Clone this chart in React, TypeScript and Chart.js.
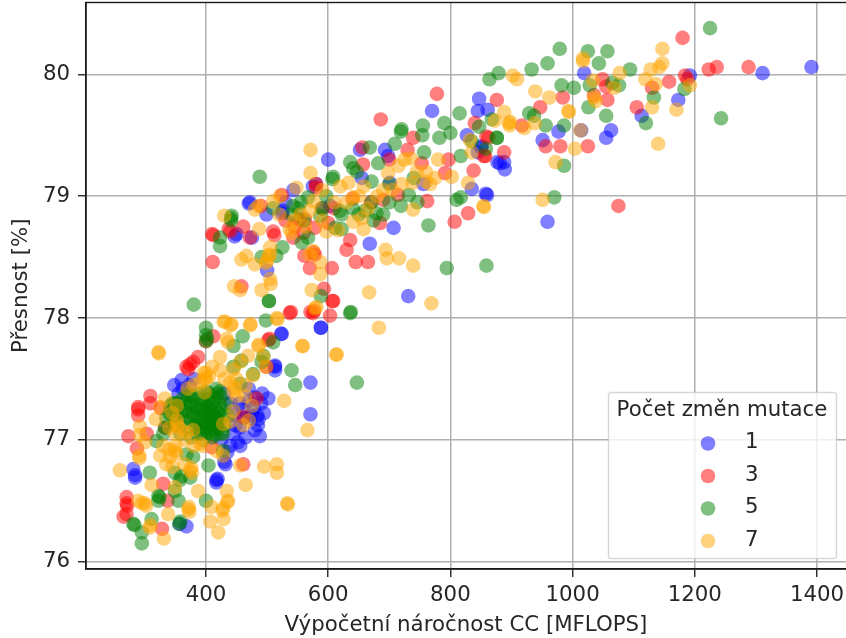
import React, { useEffect, useRef } from "react";
import { Chart, registerables } from "chart.js";

Chart.register(...registerables);

const xTickValues = [400, 600, 800, 1000, 1200, 1400];
const yTickValues = [76, 77, 78, 79, 80];
const xTitle = "Výpočetní náročnost CC [MFLOPS]";
const yTitle = "Přesnost [%]";
const legendTitle = "Počet změn mutace";
const seriesLabels = ["1", "3", "5", "7"];
const seriesColors = ["rgba(0,0,255,0.5)", "rgba(255,0,0,0.5)", "rgba(0,128,0,0.5)", "rgba(255,165,0,0.5)"];

const points1 = [
  [284,76.69],[284,76.71],[281,76.76],[348,77.45],[360,77.49],[355,77.38],[362,77.42],[523,77.87],[588,77.92],[571,77.47],[571,77.21],
  [513,77.61],[513,77.57],[513,77.6],[502,77.34],[488,77.03],[486,77.17],[484,77.2],[456,76.95],[430,76.82],[432,76.8],[417,76.67],[417,76.65],[419,76.68],
  [357,76.31],[368,76.29],[440,77.3],[448,77.2],[455,77.1],[460,77.25],[465,77.02],[470,77.32],[472,77.18],[478,77.26],[480,77.08],[490,77.3],[495,77.22],[445,77.05],[452,76.98],
  [435,76.9],[440,76.95],[425,77.0],[430,77.38],[470,77.42],[480,77.35],[492,77.38],[373,77.45],[380,77.5],[448,77.12],[462,77.18],[475,77.2],[485,77.12],[455,77.3],
  [472,78.95],[499,78.85],[524,78.86],[526,78.88],[447,78.67],[450,78.69],[475,78.66],[500,78.39],[524,77.87],[588,77.92],[731,78.18],[668,78.61],[707,78.74],[835,79.06],[860,79.01],
  [600,79.3],[652,79.38],[693,79.38],[698,79.33],[701,79.11],[655,79.15],[756,79.1],[851,79.41],[881,79.27],[827,79.5],[580,79.1],[543,79.05],[603,78.92],[575,79.08],[770,79.7],[845,79.7],
  [1391,80.06],[1311,80.01],[1192,79.99],[1019,80.01],[1173,79.79],[1113,79.66],[1063,79.54],[1055,79.48],[1014,79.54],[977,79.53],[951,79.46],[959,78.79],[858,79.02],[861,79.71],
  [877,79.28],[888,79.28],[889,79.22],[847,79.8],[850,79.4],[845,79.36],[530,78.95],[470,78.94],
];

const points3 = [
  [309,77.36],[289,77.27],[289,77.25],[289,77.2],[309,77.3],[273,77.03],[303,77.05],[287,76.93],[326,77.26],[368,77.6],[371,77.58],[374,77.62],[379,77.64],[387,77.68],[412,77.85],[400,77.81],
  [502,77.82],[539,78.05],[571,78.05],[575,78.04],[577,78.06],[603,78.02],[608,78.14],[270,76.53],[270,76.48],[271,76.46],[270,76.39],[265,76.37],[330,76.64],[328,76.27],[337,76.5],
  [461,76.8],[483,77.34],[461,77.19],[333,77.1],[409,76.94],[499,77.6],[411,78.46],[410,78.69],[412,78.68],[437,78.73],[440,78.71],[461,78.75],[458,78.26],[504,77.83],[537,78.04],
  [593,78.24],[607,78.14],[570,78.41],[606,78.41],[645,78.46],[665,78.46],[630,78.56],[636,78.64],[561,78.51],[576,78.54],[578,78.52],[543,78.66],[510,78.71],[512,78.68],[578,78.74],[562,78.81],
  [553,78.81],[685,78.78],[714,79.01],[690,78.97],[762,78.96],[807,78.79],[829,78.86],[838,79.21],[857,79.33],[862,79.48],[739,79.48],[657,79.26],[656,79.4],[753,79.27],[797,79.3],[791,79.19],
  [580,79.07],[524,79.01],[472,78.66],[580,79.1],[490,78.92],[530,78.8],[686,79.63],[778,79.84],[545,78.75],[560,78.7],[590,78.9],[610,78.9],[640,78.98],[670,78.95],[700,79.3],
  [1180,80.3],[1236,80.06],[1223,80.04],[1288,80.06],[1184,79.99],[1188,79.96],[1158,79.94],[1130,79.89],[1105,79.73],[1057,79.79],[1035,79.83],[1049,79.96],[1055,79.9],[984,79.81],[947,79.73],
  [876,79.79],[917,79.58],[859,79.49],[956,79.41],[980,79.41],[1025,79.41],[1075,78.92],[888,79.36],[855,79.33],[730,79.38],[840,79.6],[600,78.78],
];

const points5 = [
  [380,78.11],[503,78.14],[637,78.05],[498,77.98],[400,77.92],[400,77.86],[400,77.81],[402,77.83],[460,77.85],[445,77.77],[510,77.8],[540,77.57],[546,77.45],[647,77.47],[494,77.69],[491,77.64],
  [458,77.65],[445,77.6],[423,77.4],[404,76.79],[400,76.5],[428,76.91],[308,76.73],[349,76.73],[374,76.69],[357,76.67],[360,76.7],[322,76.5],[324,76.53],[355,76.5],[281,76.31],[283,76.3],[295,76.24],[295,76.15],
  [356,76.31],[358,76.33],[311,76.35],[322,76.54],[349,76.58],[333,77.1],[330,77.05],[319,76.99],[368,76.88],[379,76.86],[349,77.3],[374,77.36],[374,77.3],[417,77.42],[456,77.46],[477,77.54],
  [380,77.2],[385,77.1],[388,77.25],[390,77.15],[392,77.05],[395,77.3],[396,77.2],[398,77.1],[400,77.22],[400,77.14],[402,77.28],[403,77.06],[405,77.18],[405,77.34],[407,77.12],[408,77.24],
  [410,77.16],[410,77.3],[412,77.08],[413,77.2],[414,77.12],[415,77.26],[416,77.04],[418,77.16],[420,77.22],[420,77.1],[422,77.3],[424,77.14],[426,77.06],[428,77.2],[430,77.12],[386,77.18],
  [382,77.12],[392,77.12],[396,77.26],[404,77.24],[408,77.06],[412,77.14],[416,77.18],[420,77.15],[426,77.26],[384,77.28],[378,77.22],[372,77.18],[366,77.24],[360,77.2],[352,77.22],[345,77.2],
  [350,77.12],[358,77.05],[365,77.3],[370,77.1],[376,77.02],[380,77.35],[388,77.38],[395,77.0],[400,77.4],[410,77.02],[418,77.38],[428,77.05],[432,77.3],[436,77.2],[340,77.22],[355,77.3],[365,77.15],[375,77.28],[385,77.05],[392,77.33],[406,77.38],[414,77.34],[424,77.36],
  [335,77.18],[342,77.28],[348,77.14],[356,77.26],[362,77.34],[370,77.38],[345,77.3],
  [488,79.16],[441,78.82],[441,78.8],[442,78.84],[423,78.66],[423,78.59],[525,78.58],[515,78.51],[491,78.5],[557,78.62],[567,78.66],[588,78.18],[503,78.14],[636,78.04],[794,78.41],[859,78.43],
  [764,78.76],[810,78.97],[817,78.99],[732,79.01],[746,78.95],[719,78.92],[674,78.8],[679,78.86],[671,78.95],[619,78.88],[622,78.85],[611,78.74],[622,78.73],[587,78.84],[597,79],[608,79.16],
  [607,79.14],[636,79.28],[641,79.23],[647,79.2],[668,79.4],[682,79.27],[709,79.43],[719,79.53],[754,79.5],[782,79.48],[757,79.36],[817,79.33],[876,79.48],[671,79.12],[543,78.92],[551,78.9],[567,78.99],[510,78.9],
  [540,78.85],[555,78.95],[560,78.8],[590,78.9],[640,78.9],[650,78.85],[660,78.88],[690,78.85],[700,78.95],[700,79.1],[740,79.15],
  [1225,80.38],[1243,79.64],[979,80.21],[959,80.09],[933,80.04],[879,80.01],[864,79.96],[1025,80.19],[1057,80.19],[1043,80.09],[1094,80.04],[982,79.91],[1002,79.89],[1028,79.91],[1065,79.93],
  [1076,79.91],[1026,79.73],[1055,79.66],[1133,79.81],[1120,79.6],[1183,79.88],[929,79.68],[937,79.66],[956,79.58],[986,79.58],[970,78.99],[986,79.25],[876,79.48],[858,79.39],[868,79.63],[847,79.57],
  [800,79.52],[790,79.6],[755,79.58],[720,79.55],[835,79.45],[815,79.68],
];

const points7 = [
  [322,77.72],[323,77.71],[259,76.75],[429,77.97],[442,77.95],[473,77.95],[516,78],[558,77.77],[614,77.7],[528,77.32],[566,77.08],[486,77.78],[469,77.69],[434,77.83],[436,77.8],[333,77.34],[318,77.17],
  [292,77.11],[292,77.04],[291,76.85],[291,76.87],[495,76.78],[516,76.8],[516,76.73],[465,76.63],[456,76.79],[533,76.48],[534,76.47],[387,76.58],[434,76.58],[435,76.49],[436,76.5],[427,76.42],[428,76.44],[429,76.35],
  [407,76.33],[420,76.24],[409,76.45],[371,76.43],[373,76.41],[372,76.45],[338,76.39],[308,76.28],[309,76.3],[331,76.19],[295,76.48],[289,76.5],[300,76.48],[302,76.46],[311,76.63],[377,76.73],[349,76.61],[325,76.87],
  [349,76.91],[352,76.89],[341,76.86],[374,76.75],[376,76.77],[352,77.16],[353,77.12],[357,77.09],[368,77.06],[379,77.08],[390,76.97],[396,77.55],[398,77.5],[398,77.39],[423,77.57],[445,77.4],[446,77.43],[450,77.36],
  [464,77.36],[445,77.24],[428,77.13],[461,77.12],[477,77.53],[498,77.6],[494,77.68],[456,77.64],[445,77.58],[423,77.68],[352,77.28],[325,77.27],[417,76.91],[428,76.87],[395,76.95],[330,76.95],[340,76.92],
  [370,77.42],[380,77.45],[390,77.47],[400,77.55],[410,77.6],[430,77.5],[440,77.47],[450,77.5],[465,77.45],[475,77.28],[470,77.16],[440,77.15],[345,77.22],[350,77.05],[340,77.1],[365,77],[380,76.95],[300,76.98],[335,76.8],[345,76.78],[365,76.8],[350,76.95],[400,77.5],[405,77.52],
  [571,79.38],[571,79.19],[430,78.84],[486,78.92],[480,78.89],[510,78.96],[548,79.07],[521,79],[446,78.26],[456,78.23],[458,78.48],[466,78.51],[480,78.44],[491,78.23],[505,78.32],[506,78.28],[487,78.73],
  [431,77.97],[440,77.94],[472,77.94],[517,77.99],[486,77.77],[558,77.77],[613,77.7],[683,77.92],[667,78.21],[769,78.12],[573,78.23],[581,78.09],[587,78.36],[587,78.46],[694,78.56],[696,78.49],[716,78.49],
  [739,78.43],[855,78.91],[829,79.11],[802,79.16],[739,78.89],[655,78.82],[658,78.73],[641,78.79],[597,78.71],[616,78.72],[633,79.11],[658,79.08],[641,78.99],[698,79.19],[735,79.31],[725,79.3],[738,79.11],
  [767,79.1],[835,79.36],[832,79.46],[505,78.58],[505,78.52],[502,78.51],[500,78.47],[498,78.45],[537,78.73],[540,78.7],[562,78.75],[570,78.88],[576,78.96],[570,78.52],[575,78.55],[578,78.08],
  [520,78.85],[545,78.8],[555,78.85],[590,78.8],[610,78.95],[630,78.95],[650,79],[665,78.9],[690,79.05],[720,79.1],[745,79.2],[760,79.12],[775,79.15],[590,79.05],
  [1147,80.21],[1017,80.13],[1017,80.11],[1077,80.01],[1128,80.04],[1147,80.09],[1142,80.06],[1119,79.96],[1136,79.92],[1192,79.91],[1130,79.73],[1170,79.71],[1140,79.43],[1035,79.81],[1038,79.78],[1068,79.89],
  [1033,79.95],[993,79.7],[994,79.69],[962,79.81],[939,79.86],[902,79.99],[909,79.96],[888,79.69],[896,79.6],[897,79.58],[898,79.61],[921,79.56],[938,79.6],[873,79.62],[1004,79.39],[972,79.28],[951,78.97],
  [1013,79.54],[854,78.92],[780,79.3],[760,79.2],[715,79.25],[705,79.05],[620,79.08],[680,79],
];

const allPoints = [points1, points3, points5, points7];

const FONT = '"DejaVu Sans"';
const TEXT = "#262626";
const FONT_SIZE = 21.3;

const framePlugin = {
  id: "frame",
  afterDatasetsDraw(chart: any) {
    const { ctx, chartArea: a } = chart;
    ctx.save();
    ctx.strokeStyle = "#1a1a1a";
    ctx.lineWidth = 1.4;
    ctx.strokeRect(a.left, a.top, a.right - a.left + 4, a.bottom - a.top);
    ctx.restore();
  },
};

const boxLegendPlugin = {
  id: "boxLegend",
  afterDraw(chart: any) {
    const { ctx } = chart;
    ctx.save();
    ctx.beginPath();
    ctx.roundRect(608.5, 392.5, 228, 166, 3);
    ctx.fillStyle = "rgba(255,255,255,0.8)";
    ctx.fill();
    ctx.strokeStyle = "rgba(204,204,204,0.8)";
    ctx.lineWidth = 1.4;
    ctx.stroke();
    ctx.font = `${FONT_SIZE}px ${FONT}`;
    ctx.fillStyle = TEXT;
    ctx.textBaseline = "middle";
    ctx.textAlign = "center";
    ctx.fillText(legendTitle, 722, 410);
    chart.data.datasets.forEach((d: any, i: number) => {
      const y = 443.5 + i * 32.5;
      ctx.beginPath();
      ctx.arc(708, y, 7.3, 0, Math.PI * 2);
      ctx.fillStyle = d.backgroundColor;
      ctx.fill();
      ctx.fillStyle = TEXT;
      ctx.textAlign = "left";
      ctx.fillText(d.label, 745, y - 1);
    });
    ctx.restore();
  },
};

export default function App() {
  const ref = useRef<HTMLCanvasElement>(null);
  useEffect(() => {
    const chart = new Chart(ref.current!, {
      type: "scatter",
      data: {
        datasets: allPoints.map((pts, i) => ({
          label: seriesLabels[i],
          data: pts.map(([x, y]) => ({ x, y })),
          backgroundColor: seriesColors[i],
          borderWidth: 0,
          pointRadius: 7.3,
          order: allPoints.length - i,
        })),
      },
      options: {
        responsive: false,
        animation: false,
        layout: { autoPadding: false, padding: { top: 2.5, right: 0, left: 0, bottom: 0 } },
        plugins: { legend: { display: false }, tooltip: { enabled: false } },
        scales: {
          x: {
            type: "linear",
            min: 203.6,
            max: 1447.5,
            afterBuildTicks: (s: any) => { s.ticks = xTickValues.map((value) => ({ value })); },
            afterFit: (s: any) => { s.height = 69; s.paddingLeft = 0; s.paddingRight = 0; },
            border: { color: "#1a1a1a", width: 1.4 },
            grid: { color: "#b0b0b0", lineWidth: 1.5, tickColor: "#262626", tickLength: 8, tickWidth: 1.4 },
            ticks: { color: TEXT, font: { family: FONT, size: FONT_SIZE }, maxRotation: 0, autoSkip: false, padding: 6, callback: (v: any) => String(v) },
            title: { display: true, text: xTitle, color: TEXT, font: { family: FONT, size: FONT_SIZE }, padding: { top: 0, bottom: 0 } },
          },
          y: {
            type: "linear",
            min: 75.94,
            max: 80.59,
            afterBuildTicks: (s: any) => { s.ticks = yTickValues.map((value) => ({ value })); },
            afterFit: (s: any) => { s.width = 86; s.paddingTop = 0; s.paddingBottom = 0; },
            border: { color: "#1a1a1a", width: 1.4 },
            grid: { color: "#b0b0b0", lineWidth: 1.5, tickColor: "#262626", tickLength: 8, tickWidth: 1.4 },
            ticks: { color: TEXT, font: { family: FONT, size: FONT_SIZE }, autoSkip: false, padding: 8, callback: (v: any) => String(v) },
            title: { display: true, text: yTitle, color: TEXT, font: { family: FONT, size: FONT_SIZE }, padding: { top: 9, bottom: 9 } },
          },
        },
      },
      plugins: [framePlugin, boxLegendPlugin],
    } as any);
    return () => chart.destroy();
  }, []);
  return (
    <div style={{ position: "absolute", left: 0, top: 0, width: 846, height: 638 }}>
      <canvas ref={ref} width={846} height={638} style={{ display: "block" }} />
    </div>
  );
}
